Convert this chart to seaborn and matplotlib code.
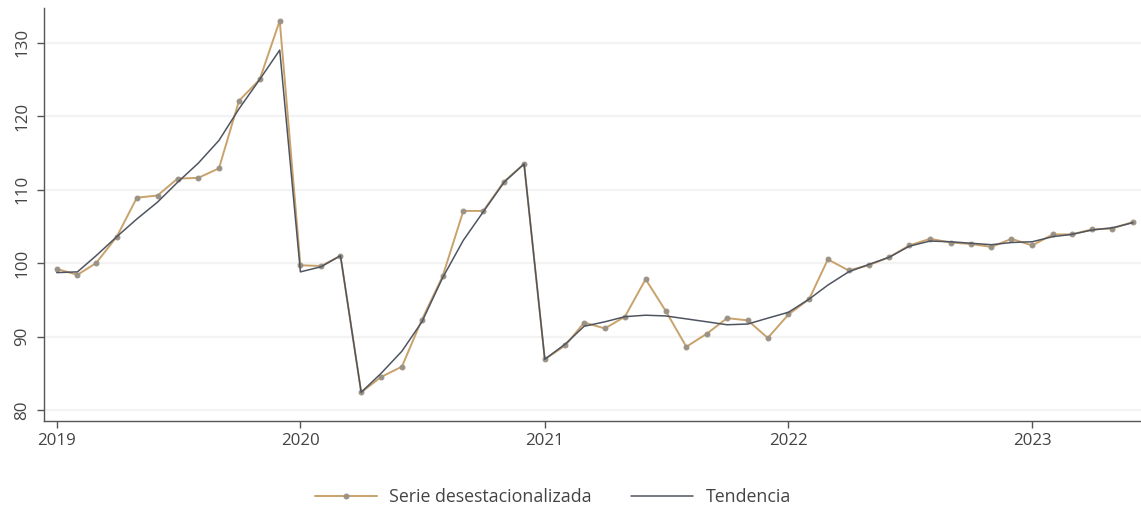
import matplotlib
matplotlib.use('Agg')
import matplotlib.pyplot as plt
import matplotlib.dates as mdates
import seaborn as sns
import pandas as pd
import numpy as np

# meses: 2019-01 a 2023-06
fechas = pd.date_range('2019-01-01', '2023-06-01', freq='MS')

serie = [99.2, 98.4, 100.0, 103.6, 108.9, 109.2, 111.5, 111.6, 112.9, 122.1, 125.0, 133.0,
         99.7, 99.6, 101.0, 82.4, 84.5, 85.9, 92.3, 98.2, 107.1, 107.1, 111.1, 113.5,
         86.9, 88.8, 91.9, 91.1, 92.7, 97.8, 93.5, 88.6, 90.4, 92.5, 92.2, 89.8,
         93.0, 95.1, 100.5, 99.0, 99.7, 100.8, 102.4, 103.3, 102.8, 102.6, 102.2, 103.3,
         102.4, 103.9, 103.9, 104.6, 104.7, 105.6]

tendencia = [98.7, 98.8, 101.0, 103.6, 106.0, 108.3, 111.0, 113.6, 116.7, 121.0, 125.0, 129.0,
             98.8, 99.5, 101.0, 82.4, 85.0, 88.0, 92.0, 98.0, 103.1, 107.0, 111.0, 113.5,
             86.9, 89.0, 91.4, 92.0, 92.7, 92.9, 92.8, 92.4, 92.0, 91.6, 91.7, 92.5,
             93.3, 95.1, 97.0, 98.8, 99.8, 100.8, 102.3, 103.0, 102.9, 102.7, 102.5, 102.8,
             102.9, 103.6, 103.9, 104.5, 104.8, 105.5]

df = pd.DataFrame({'fecha': fechas, 'serie': serie, 'tendencia': tendencia})

sns.set_theme(style='white')
plt.rcParams['font.family'] = ['Open Sans', 'DejaVu Sans']

fig = plt.figure(figsize=(11.41, 5.14), dpi=100)
ax = fig.add_axes([0.0386, 0.181, 0.9614, 0.803])

col_serie = '#c9a26b'
col_tend = '#4f5560'

sns.lineplot(data=df, x='fecha', y='serie', ax=ax, color=col_serie, linewidth=1.4,
             marker='o', markersize=3.5, markerfacecolor='#9b9286', markeredgecolor='#9b9286',
             label='Serie desestacionalizada')
sns.lineplot(data=df, x='fecha', y='tendencia', ax=ax, color=col_tend, linewidth=1.1,
             label='Tendencia')

ax.set_xlim(pd.Timestamp('2019-01-01') - pd.Timedelta(days=19),
            pd.Timestamp('2023-06-01') + pd.Timedelta(days=12))
ax.set_ylim(78.5, 134.7)
ax.set_yticks([80, 90, 100, 110, 120, 130])
ax.xaxis.set_major_locator(mdates.YearLocator())
ax.xaxis.set_major_formatter(mdates.DateFormatter('%Y'))

ax.yaxis.grid(True, color='#f3f3f3', linewidth=1.6)
ax.set_axisbelow(True)
for s in ['top', 'right']:
    ax.spines[s].set_visible(False)
for s in ['left', 'bottom']:
    ax.spines[s].set_color('#555555')
    ax.spines[s].set_linewidth(1.0)

ax.tick_params(axis='both', direction='out', length=5, width=1, color='#555555',
               labelcolor='#444444', labelsize=12.2, left=True, bottom=True)
ax.tick_params(axis='y', pad=5)
for lab in ax.get_yticklabels():
    lab.set_rotation(90)
    lab.set_verticalalignment('center')
ax.set_xlabel('')
ax.set_ylabel('')

handles, labels = ax.get_legend_handles_labels()
ax.get_legend().remove()
fig.legend(handles, labels, loc='center', bbox_to_anchor=(553 / 1141, 0.033), ncol=2,
           frameon=False, fontsize=12.8, labelcolor='#444444', handlelength=3.5,
           handletextpad=0.7, columnspacing=2.2)

fig.savefig('out.png', dpi=100)
